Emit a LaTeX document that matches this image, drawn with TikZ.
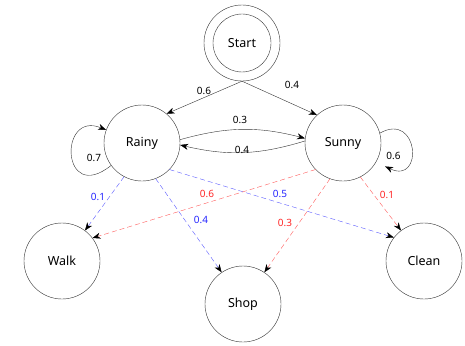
\documentclass[tikz,border=0pt]{standalone}
\usepackage{fontspec}
\setmainfont{Noto Sans}
\usetikzlibrary{arrows.meta}
\begin{document}
\begin{tikzpicture}[x=1pt,y=1pt,
  state/.style={circle,draw=black!80,thin,minimum size=76pt,inner sep=0pt,font=\fontsize{12.5}{14}\selectfont},
  arr/.style={draw=black!80,thin,-{Stealth[black,length=8pt,width=6pt,inset=2.5pt]}},
  emit/.style={arr,dash pattern=on 5pt off 3pt},
  blueline/.style={emit,draw=blue!65},
  redline/.style={emit,draw=red!65},
  lbl/.style={font=\fontsize{10}{12}\selectfont,inner sep=0pt}]
\useasboundingbox (0,0) rectangle (465,-345);
% states
\node[state] (start) at (242,-43) {Start};
\draw[black!80,thin] (start.center) circle (29pt);
\node[state] (rainy) at (142,-143) {Rainy};
\node[state] (sunny) at (343,-143) {Sunny};
% observations
\node[state] (walk) at (62,-261) {Walk};
\node[state] (shop) at (243,-304) {Shop};
\node[state] (clean) at (424,-261) {Clean};
% transitions
\draw[arr] (start.south) -- (rainy.50);
\draw[arr] (start.south) -- (sunny.133);
\draw[arr] (rainy.5) to[bend left=15] (sunny.173);
\draw[arr] (sunny.177) to[bend left=15] (rainy.-3);
\draw[arr] (rainy.216) .. controls +(-50,-40) and +(-48,20) .. (rainy.160);
\draw[arr,shorten >=10pt] (sunny.15) .. controls +(39,22) and +(48,-23) .. (sunny.-30);
\node[lbl] (p1) at (204,-91) {0.6};
\node[lbl] (p2) at (292,-85) {0.4};
\node[lbl] (p3) at (240,-120) {0.3};
\node[lbl] (p4) at (242,-149.5) {0.4};
\node[lbl] (p5) at (94,-158) {0.7};
\node[lbl] (p6) at (393.5,-155.5) {0.6};
% emissions
\draw[blueline] (rainy.242) -- (walk.53);
\draw[blueline] (rainy.291) -- (shop.124);
\draw[blueline] (rainy.-44) -- (clean.142);
\draw[redline] (sunny.224) -- (walk.37);
\draw[redline] (sunny.250) -- (shop.56);
\draw[redline] (sunny.-63) -- (clean.127);
\node[lbl,text=blue!85] (e1) at (98,-197) {0.1};
\node[lbl,text=blue!85] (e2) at (201,-220) {0.4};
\node[lbl,text=blue!85] (e3) at (280,-194) {0.5};
\node[lbl,text=red!85] (e4) at (207,-194) {0.6};
\node[lbl,text=red!85] (e5) at (285,-222.5) {0.3};
\node[lbl,text=red!85] (e6) at (387,-195) {0.1};
\end{tikzpicture}
\end{document}
